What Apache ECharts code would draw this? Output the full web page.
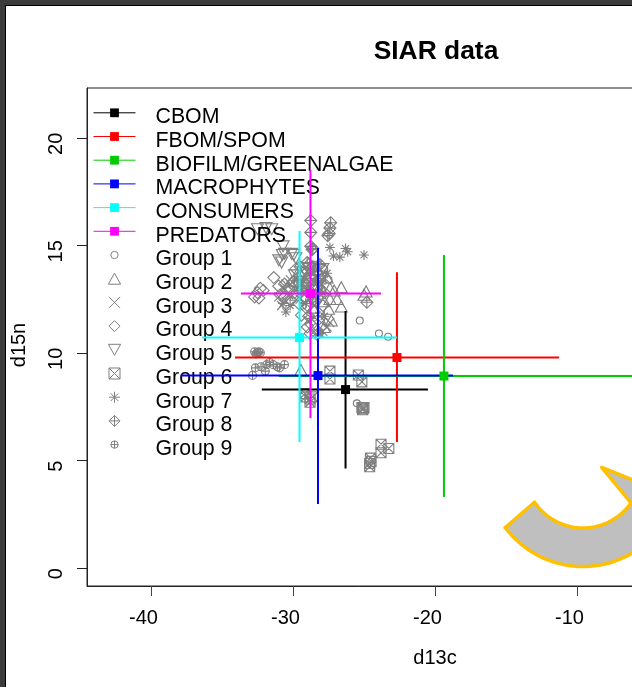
<!DOCTYPE html>
<html>
<head>
<meta charset="utf-8">
<style>
html,body{margin:0;padding:0;width:632px;height:687px;background:#3c3c3c;overflow:hidden}
#paper{position:absolute;left:5px;top:5px;width:627px;height:682px;background:#fff;border-left:1px solid #000;border-top:1px solid #000;box-sizing:border-box}
#main{position:absolute;left:0;top:0;width:632px;height:687px}
</style>
<script src="https://cdn.jsdelivr.net/npm/echarts@6/dist/echarts.min.js"></script>
</head>
<body>
<div id="paper"></div>
<div id="main"></div>
<script>
const xTicks = [-40, -30, -20, -10];
const yTicks = [0, 5, 10, 15, 20];

// [centre x, low x, high x, centre y, low y, high y]
const CBOM = [-26.3, -32.2, -20.5, 8.29, 4.62, 11.94];
const FBOM = [-22.68, -34.08, -11.27, 9.78, 5.85, 13.75];
const BIOFILM = [-19.37, -31, 0, 8.92, 3.29, 14.55];
const MACRO = [-28.24, -37.9, -18.73, 8.94, 2.97, 14.87];
const CONSUMERS = [-29.54, -36.4, -22.68, 10.71, 5.85, 15.66];
const PREDATORS = [-28.77, -33.66, -23.8, 12.76, 6.97, 18.5];

const group1 = [[-25.3,11.5],[-23.95,10.9],[-23.3,10.75],[-25.5,7.65],[-27.8,13.9],[-28.5,13.5],[-27.5,13.4],[-28.2,12.8],[-29.3,12.2]];
const group2 = [[-29.44,9.2],[-24.85,12.85],[-25,12.7],[-26.6,13.05],[-27.1,12.9],[-26.9,12.5],[-27.4,12.5],[-27.5,12.05],[-26.6,12.15],[-27.4,13.0],[-27.6,13.5],[-28.7,13.7],[-29.6,13.8],[-28.1,13.6],[-27.3,11.5],[-27.8,11.2],[-29,13.5],[-28.3,13.9],[-27.8,12.4],[-28.6,12.1],[-29.8,12.7],[-28,13]];
const group3 = [[-30.5,13.2],[-30.6,13],[-30.8,12.2],[-30.5,12.4],[-30.3,12.7],[-30.2,13.4],[-31,12.6],[-28,11.4],[-27.6,11.2],[-27.9,11],[-28.2,10.9],[-27.4,11.4],[-29,13.8],[-28.5,14],[-28.8,13.3],[-29.3,13.5],[-28.2,13.3],[-28.9,12.5],[-29.5,12.5],[-28.5,12.2],[-29.2,13.9],[-27.8,13.5],[-28.1,11.7],[-28.9,11.5]];
const group4 = [[-32.3,13],[-32.5,12.8],[-32.7,12.6],[-32.4,12.55],[-32.1,12.9],[-31.35,13.5],[-29,12.2],[-29.4,11.75],[-29.9,12.8],[-30.15,12.45],[-30.9,12.7],[-30.6,13.2],[-30.3,13],[-31,13.1],[-28.7,11.3],[-28.3,10.85],[-28.8,10.9],[-28.9,11.7],[-28.5,11.9],[-27.9,12.2],[-29.1,13.2],[-29.5,13.6],[-28.6,13.4],[-28.2,13.7],[-29.8,13.9],[-28.9,14.1],[-28.6,14],[-29.2,12.6],[-28.4,12.9],[-27.8,12.8],[-29.6,12.3],[-30,13.3],[-29.7,13.3],[-29.4,12.9],[-28.3,13.1],[-30.6,12.6],[-29,11.2],[-28.4,11.1]];
const group5 = [[-32.5,15.75],[-31.5,15.75],[-31.9,15.8],[-30.7,14.95],[-30.75,14.55],[-31,14.3],[-30.8,14.2],[-29.95,14.55],[-29.8,14.4],[-30.1,14.6],[-30.6,14.6],[-29.3,13.7],[-28.9,13.9],[-28.4,14],[-29.6,13.1],[-28.7,12.6],[-29.1,12.9],[-29.9,13.6],[-28.2,13.2],[-29.4,13.3],[-28.6,13.0],[-27.9,13.9]];
const group6 = [[-27.4,9.15],[-27.4,8.78],[-25.4,8.97],[-25.15,8.65],[-25.15,7.45],[-25.05,7.4],[-25.1,7.35],[-25,7.45],[-23.8,5.75],[-23.8,5.35],[-23.25,5.55],[-24.55,5.1],[-24.6,4.85],[-24.5,4.95],[-24.6,4.7],[-29.15,8.1],[-29.1,7.95],[-28.8,7.85],[-28.6,7.95],[-28.8,7.7]];
const group7 = [[-27.4,14.9],[-26.3,14.85],[-27.15,14.5],[-26.7,14.45],[-26.15,14.7],[-25,14.55],[-28,13.2],[-27.9,12.8],[-28.6,12.7],[-29,13],[-27.6,13.7],[-28.3,12.5],[-29.4,12.9],[-30.7,12.3],[-30.5,11.9],[-28.1,10.9],[-29.7,13.4],[-29.1,12.3],[-28.7,11.6],[-27.8,11.7],[-30.2,12.2]];
const group8 = [[-28.75,16.15],[-28.75,15.6],[-28.75,14.95],[-28.6,14.85],[-28.65,14.8],[-27.35,16.05],[-27.45,15.55],[-27.4,15.8],[-27.55,15.45],[-24.8,12.35],[-28.5,13.6],[-29,14.2],[-28.1,14.1],[-29.3,13.1],[-29.5,14],[-28.4,12.4],[-29.9,13.1]];
const group9 = [[-32.7,10.05],[-32.5,10],[-32.3,10],[-32.6,9.95],[-32.4,10.05],[-32.85,8.95],[-32.65,9.3],[-32.25,9.35],[-31.85,9.45],[-31.65,9.55],[-31.95,9.15],[-31.4,9.45],[-31.1,9.35],[-30.95,9.3],[-30.6,9.45]];

const sourceNames = ['CBOM','FBOM/SPOM','BIOFILM/GREENALGAE','MACROPHYTES','CONSUMERS','PREDATORS'];
const sourceValues = [CBOM, FBOM, BIOFILM, MACRO, CONSUMERS, PREDATORS];
const sourceColors = ['#000000','#ff0000','#00cd00','#0000ff','#00ffff','#ff00ff'];

const groupNames = ['Group 1','Group 2','Group 3','Group 4','Group 5','Group 6','Group 7','Group 8','Group 9'];
const groupValues = [group1,group2,group3,group4,group5,group6,group7,group8,group9];
const groupSizes = [7,[12,11],9,12,[12,11],10,10,12,8];
const circle = 'M20 10A10 10 0 1 1 0 10A10 10 0 1 1 20 10Z';
const groupSymbols = [
  circle,
  'M10 0L20 18L0 18Z',
  'M0 0L20 20M20 0L0 20',
  'M10 0L20 10L10 20L0 10Z',
  'M0 0L20 0L10 18Z',
  'M0 0L20 0L20 20L0 20ZM0 0L20 20M20 0L0 20',
  'M10 0L10 20M0 10L20 10M3 3L17 17M17 3L3 17',
  'M10 0L20 10L10 20L0 10ZM10 0L10 20M0 10L20 10',
  circle + 'M10 0L10 20M0 10L20 10'
];
// legend glyphs keep the small markers small inside the legend's fixed icon box
const legendIcons = [
  'M0 0L0 0M25 15A10 10 0 1 1 5 15A10 10 0 1 1 25 15ZM30 30L30 30',
  null, null, null, null, null, null, null,
  'M0 0L0 0M25 15A10 10 0 1 1 5 15A10 10 0 1 1 25 15ZM15 5L15 25M5 15L25 15M30 30L30 30'
];
const pointGray = '#7f7f7f';

// curved arrow overlay: ring segment about a centre, then the arrow head (page pixels)
function arrowPoints(){
  const cx=583, cy=469.5, rIn=58.5, rOut=97, pts=[];
  for(let a=146;a>=34.5;a-=3) pts.push([cx+rIn*Math.cos(a*Math.PI/180),cy+rIn*Math.sin(a*Math.PI/180)]);
  pts.push([631,503],[601.7,467.3],[660,491]);
  for(let a=23;a<=143;a+=3) pts.push([cx+rOut*Math.cos(a*Math.PI/180),cy+rOut*Math.sin(a*Math.PI/180)]);
  pts.push([505,527.7]);
  return pts;
}

const series = [];
groupNames.forEach((n,i)=>{
  series.push({
    type:'scatter', name:n, z:1, data:groupValues[i],
    symbol:'path://'+groupSymbols[i], symbolSize:groupSizes[i],
    itemStyle:{color:'rgba(0,0,0,0)',borderColor:pointGray,borderWidth:1.1,opacity:1},
    emphasis:{disabled:true}
  });
});
sourceNames.forEach((n,i)=>{
  const [c,xl,xh,m,yl,yh] = sourceValues[i];
  const off = v=>({value:v,symbol:'none'});
  series.push({
    type:'line', name:n, z:3, clip:true, showSymbol:true, showAllSymbol:true,
    symbol:'rect', symbolSize:9,
    itemStyle:{color:sourceColors[i],borderWidth:0},
    lineStyle:{color:sourceColors[i],width:2},
    data:[off([xl,m]),off([xh,m]),off(['-','-']),off([c,yl]),off([c,yh]),off(['-','-']),[c,m]],
    emphasis:{disabled:true}
  });
});

const legendData = sourceNames.map(n=>({name:n})).concat(groupNames.map((n,i)=>{
  const o = {name:n};
  if (legendIcons[i]) o.icon = 'path://'+legendIcons[i];
  return o;
}));

const font = '"Liberation Sans", Arial, sans-serif';
const chart = echarts.init(document.getElementById('main'),null,{renderer:'canvas'});
chart.setOption({
  animation:false,
  textStyle:{fontFamily:font},
  title:{text:'SIAR data',left:431,top:34,textAlign:'center',
    textStyle:{fontFamily:font,fontSize:26.4,fontWeight:'bold',color:'#000'}},
  grid:{left:87,top:88,width:696,height:498,show:true,outerBoundsMode:'none',containLabel:false,borderColor:'#222',borderWidth:1,backgroundColor:'transparent'},
  xAxis:{type:'value',min:-44.507,max:4.507,name:'d13c',nameLocation:'middle',nameGap:62,
    nameTextStyle:{fontFamily:font,fontSize:20,color:'#000'},
    splitLine:{show:false},
    axisLine:{show:true,onZero:false,lineStyle:{color:'#222',width:1}},
    axisTick:{show:true,length:10,customValues:xTicks,lineStyle:{color:'#444',width:1}},
    axisLabel:{customValues:xTicks,fontFamily:font,fontSize:20,color:'#000',margin:22,padding:[0,15,0,0],
      formatter:v=>String(v)}},
  yAxis:{type:'value',min:-0.846,max:22.316,name:'d15n',nameLocation:'middle',nameGap:58,nameRotate:90,
    nameTextStyle:{fontFamily:font,fontSize:20,color:'#000',padding:[0,16,0,0]},
    splitLine:{show:false},
    axisLine:{show:true,onZero:false,lineStyle:{color:'#222',width:1}},
    axisTick:{show:true,length:10,customValues:yTicks,lineStyle:{color:'#222',width:1}},
    axisLabel:{customValues:yTicks,rotate:90,fontFamily:font,fontSize:20,color:'#000',margin:21,padding:[0,12,0,0],
      formatter:v=>String(v)}},
  legend:{orient:'vertical',left:93,top:97.8,z:1.5,selectedMode:false,
    itemWidth:42,itemHeight:11,itemGap:-6.3,align:'left',padding:0,
    lineStyle:{width:1},
    itemStyle:{borderWidth:1},
    formatter:'{t|{name}}',
    textStyle:{fontFamily:font,fontSize:21.3,color:'#000',
      rich:{t:{fontFamily:font,fontSize:21.3,color:'#000',lineHeight:20,padding:[9,0,0,15]}}},
    data:legendData},
  series:series,
  graphic:[{type:'polygon',z:5,silent:true,
    shape:{points:arrowPoints()},
    style:{fill:'#bfbfbf',stroke:'#ffc000',lineWidth:3.5,lineJoin:'round'}}]
});
</script>
</body>
</html>
